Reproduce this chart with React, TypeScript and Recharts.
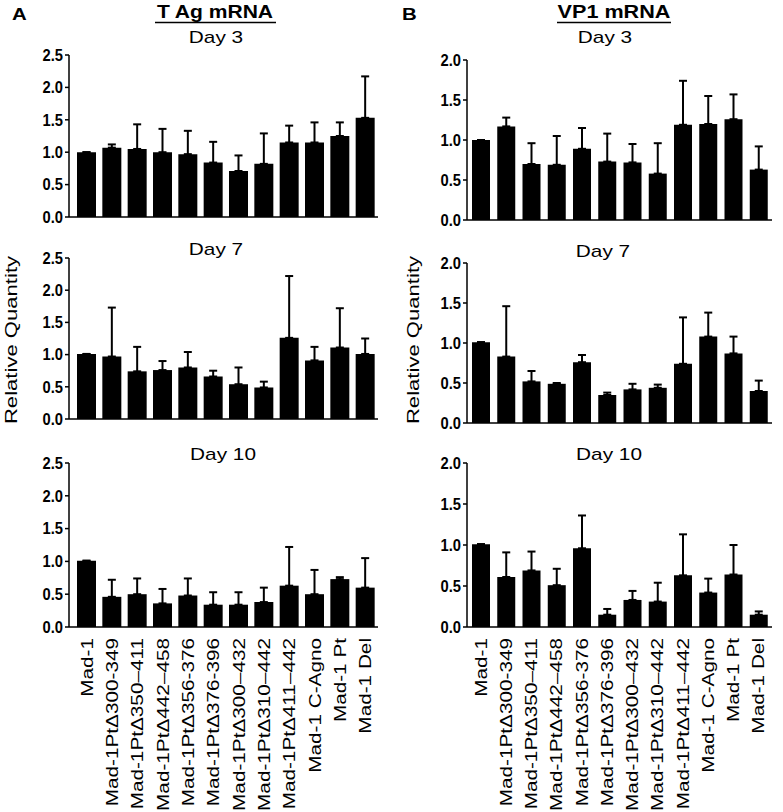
import { BarChart, Bar, XAxis, YAxis, ErrorBar } from "recharts"

const strains = [
  "Mad-1",
  "Mad-1PtΔ300-349",
  "Mad-1PtΔ350–411",
  "Mad-1PtΔ442–458",
  "Mad-1PtΔ356-376",
  "Mad-1PtΔ376-396",
  "Mad-1PtΔ300–432",
  "Mad-1PtΔ310–442",
  "Mad-1PtΔ411–442",
  "Mad-1 C-Agno",
  "Mad-1 Pt",
  "Mad-1 Del",
]

// T Ag mRNA (mean, top of error bar)
const tagDay3 = [1.0, 1.07, 1.05, 1.0, 0.97, 0.84, 0.71, 0.82, 1.15, 1.15, 1.25, 1.53]
const tagDay3Top = [1.0, 1.12, 1.43, 1.36, 1.33, 1.16, 0.95, 1.29, 1.41, 1.46, 1.46, 2.17]
const tagDay7 = [1.01, 0.97, 0.74, 0.76, 0.8, 0.66, 0.54, 0.49, 1.26, 0.91, 1.11, 1.01]
const tagDay7Top = [1.01, 1.73, 1.12, 0.9, 1.04, 0.75, 0.8, 0.58, 2.22, 1.12, 1.72, 1.25]
const tagDay10 = [1.01, 0.46, 0.5, 0.36, 0.48, 0.34, 0.34, 0.38, 0.63, 0.5, 0.73, 0.6]
const tagDay10Top = [1.01, 0.72, 0.74, 0.58, 0.74, 0.53, 0.53, 0.6, 1.22, 0.87, 0.76, 1.05]

// VP1 mRNA
const vp1Day3 = [1.0, 1.17, 0.7, 0.69, 0.89, 0.73, 0.72, 0.58, 1.19, 1.2, 1.26, 0.63]
const vp1Day3Top = [1.0, 1.28, 0.96, 1.05, 1.15, 1.08, 0.95, 0.96, 1.74, 1.55, 1.57, 0.92]
const vp1Day7 = [1.01, 0.83, 0.52, 0.49, 0.76, 0.35, 0.42, 0.44, 0.74, 1.08, 0.87, 0.4]
const vp1Day7Top = [1.01, 1.46, 0.65, 0.5, 0.85, 0.38, 0.49, 0.48, 1.32, 1.38, 1.08, 0.53]
const vp1Day10 = [1.01, 0.61, 0.69, 0.51, 0.96, 0.15, 0.33, 0.31, 0.63, 0.42, 0.64, 0.15]
const vp1Day10Top = [1.01, 0.91, 0.92, 0.71, 1.36, 0.22, 0.44, 0.54, 1.13, 0.59, 1.0, 0.19]

const tagTicks = [0, 0.5, 1, 1.5, 2, 2.5]
const vp1Ticks = [0, 0.5, 1, 1.5, 2]

const FONT = "'Liberation Sans', Arial, sans-serif"

const makeRows = (vals: number[], tops: number[]) =>
  strains.map((name, i) => ({ name, value: vals[i], err: [0, Math.max(0, tops[i] - vals[i])] }))

const YTick = (props: any) => {
  const { x, y, payload } = props
  return (
    <g transform={`translate(${x},${y}) scale(0.92,1)`}>
      <text x={0} y={0} dy="0.36em" textAnchor="end" fontFamily={FONT} fontWeight="bold" fontSize={16} fill="#000">
        {Number(payload.value).toFixed(1)}
      </text>
    </g>
  )
}

const XTick = (props: any) => {
  const { x, y, payload } = props
  return (
    <g transform={`translate(${x},${y + 3}) rotate(-90) scale(1.22,1)`}>
      <text x={0} y={0} dy="0.36em" textAnchor="end" fontFamily={FONT} fontSize={17} fill="#000">
        {payload.value}
      </text>
    </g>
  )
}

type PanelProps = {
  left: number
  width: number
  plotLeft: number
  plotRight: number
  plotTop: number
  plotBottom: number
  rows: any[]
  max: number
  ticks: number[]
  barSize: number
  pad: { left: number; right: number }
  showLabels: boolean
}

function Panel(p: PanelProps) {
  const marginTop = 10
  const marginBottom = p.showLabels ? 0 : 14
  const xAxisH = p.showLabels ? 812 - p.plotBottom : 2
  const height = marginTop + (p.plotBottom - p.plotTop) + xAxisH + marginBottom
  return (
    <div style={{ position: "absolute", left: p.left, top: p.plotTop - marginTop }}>
      <BarChart
        width={p.width}
        height={height}
        data={p.rows}
        margin={{ top: marginTop, right: p.width - (p.plotRight - p.left), left: 0, bottom: marginBottom }}
      >
        <XAxis
          dataKey="name"
          interval={0}
          height={xAxisH}
          padding={p.pad}
          axisLine={{ stroke: "#000", strokeWidth: 1.5 }}
          tickLine={false}
          tick={p.showLabels ? <XTick /> : false}
        />
        <YAxis
          width={p.plotLeft - p.left}
          domain={[0, p.max]}
          ticks={p.ticks}
          interval={0}
          axisLine={{ stroke: "#000", strokeWidth: 1.5 }}
          tickLine={{ stroke: "#000", strokeWidth: 1.5 }}
          tickSize={4}
          tick={<YTick />}
        />
        <Bar dataKey="value" fill="#000" barSize={p.barSize} isAnimationActive={false}>
          <ErrorBar dataKey="err" direction="y" width={4} stroke="#000" strokeWidth={2} isAnimationActive={false} />
        </Bar>
      </BarChart>
    </div>
  )
}

export default function App() {
  const colA = { left: 0, width: 390, plotLeft: 69, plotRight: 378, max: 2.5, ticks: tagTicks, barSize: 19, pad: { left: 5, right: 0 } }
  const colB = { left: 390, width: 393, plotLeft: 467, plotRight: 772, max: 2, ticks: vp1Ticks, barSize: 18, pad: { left: 1, right: 1 } }

  const dayLabel = (label: string, cx: number, baseline: number) => (
    <g transform={`translate(${cx},${baseline}) scale(1.3,1)`}>
      <text x={0} y={0} textAnchor="middle" fontFamily={FONT} fontSize={16} fill="#000">
        {label}
      </text>
    </g>
  )

  return (
    <div style={{ position: "absolute", left: 0, top: 0, width: 783, height: 812, background: "#fff", overflow: "hidden" }}>
      <Panel {...colA} plotTop={55} plotBottom={217} rows={makeRows(tagDay3, tagDay3Top)} showLabels={false} />
      <Panel {...colA} plotTop={258} plotBottom={419} rows={makeRows(tagDay7, tagDay7Top)} showLabels={false} />
      <Panel {...colA} plotTop={463} plotBottom={627} rows={makeRows(tagDay10, tagDay10Top)} showLabels={true} />
      <Panel {...colB} plotTop={60} plotBottom={220} rows={makeRows(vp1Day3, vp1Day3Top)} showLabels={false} />
      <Panel {...colB} plotTop={263} plotBottom={423} rows={makeRows(vp1Day7, vp1Day7Top)} showLabels={false} />
      <Panel {...colB} plotTop={463} plotBottom={627} rows={makeRows(vp1Day10, vp1Day10Top)} showLabels={true} />

      <svg width={783} height={812} style={{ position: "absolute", left: 0, top: 0, pointerEvents: "none" }}>
        <g transform="translate(12,20) scale(1.2,1)">
          <text fontFamily={FONT} fontWeight="bold" fontSize={17} fill="#000">A</text>
        </g>
        <g transform="translate(402,20) scale(1.2,1)">
          <text fontFamily={FONT} fontWeight="bold" fontSize={17} fill="#000">B</text>
        </g>

        <g transform="translate(215,18) scale(1.17,1)">
          <text textAnchor="middle" fontFamily={FONT} fontWeight="bold" fontSize={18} fill="#000">T Ag mRNA</text>
        </g>
        <line x1={155} x2={276} y1={22.5} y2={22.5} stroke="#000" strokeWidth={1.6} />
        <g transform="translate(614,18) scale(1.2,1)">
          <text textAnchor="middle" fontFamily={FONT} fontWeight="bold" fontSize={18} fill="#000">VP1 mRNA</text>
        </g>
        <line x1={557} x2={671} y1={22.5} y2={22.5} stroke="#000" strokeWidth={1.6} />

        {dayLabel("Day 3", 216, 43)}
        {dayLabel("Day 7", 216, 255)}
        {dayLabel("Day 10", 223, 460)}
        {dayLabel("Day 3", 605, 43)}
        {dayLabel("Day 7", 603, 257)}
        {dayLabel("Day 10", 609, 460)}

        <g transform="translate(17,340) rotate(-90) scale(1.3,1)">
          <text textAnchor="middle" fontFamily={FONT} fontSize={17} fill="#000">Relative Quantity</text>
        </g>
        <g transform="translate(419,340) rotate(-90) scale(1.3,1)">
          <text textAnchor="middle" fontFamily={FONT} fontSize={17} fill="#000">Relative Quantity</text>
        </g>
      </svg>
    </div>
  )
}
